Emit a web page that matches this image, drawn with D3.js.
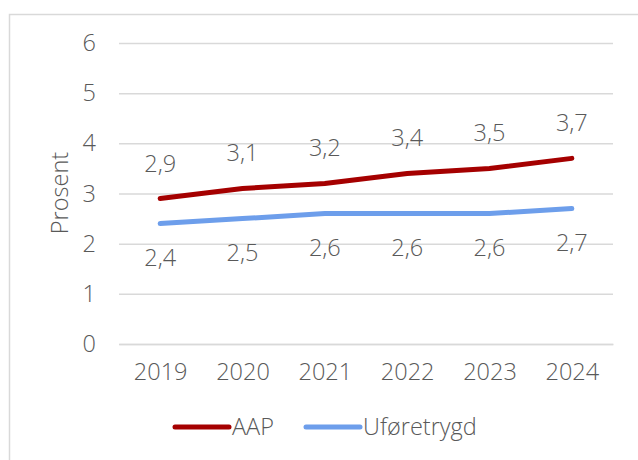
<!DOCTYPE html>
<html><head><meta charset="utf-8">
<script src="https://cdn.jsdelivr.net/npm/d3@7"></script>
<style>body{margin:0;background:#fff}svg{display:block}text{font-family:"Open Sans",Lato,sans-serif;font-weight:300;fill:#595959}</style>
</head><body><svg id="c" width="638" height="460"></svg>
<script>
const years = ["2019","2020","2021","2022","2023","2024"];
const aap = [2.9,3.1,3.2,3.4,3.5,3.7];
const ufore = [2.4,2.5,2.6,2.6,2.6,2.7];
const yTicks = [0,1,2,3,4,5,6];
const seriesNames = ["AAP","Uføretrygd"];
const seriesColors = ["#A50000","#6D9EEB"];

const svg = d3.select("#c");
svg.append("rect").attr("x",9.5).attr("y",14.5).attr("width",700).attr("height",500)
  .attr("fill","none").attr("stroke","#d9d9d9").attr("stroke-width",1.5);

const x = d3.scalePoint().domain(years).range([119,613]).padding(0.5);
const y = d3.scaleLinear().domain([0,6]).range([344,43]);
const fs = 23.5;

const yAxis = svg.append("g").attr("transform","translate(119,0)")
  .call(d3.axisLeft(y).tickValues(yTicks).tickSize(-494).tickPadding(23).tickFormat(d3.format("d")));
yAxis.select(".domain").remove();
yAxis.selectAll("line").attr("stroke","#d9d9d9").attr("stroke-width",1.5);
yAxis.selectAll("text").style("font-size",fs+"px").attr("fill","#595959");

const xAxis = svg.append("g").attr("transform","translate(0,344)")
  .call(d3.axisBottom(x).tickSize(0).tickPadding(19));
xAxis.select(".domain").attr("stroke","#d9d9d9").attr("stroke-width",1.5);
xAxis.selectAll("text").style("font-size",fs+"px").attr("fill","#595959");

svg.append("text").attr("transform","translate(68,193) rotate(-90)").attr("text-anchor","middle")
  .style("font-size",fs+"px").text("Prosent");

const line = d3.line().x((d,i)=>x(years[i])).y(d=>y(d));
[aap, ufore].forEach((s,k)=>{
  svg.append("path").datum(s).attr("d",line).attr("fill","none")
    .attr("stroke",seriesColors[k]).attr("stroke-width",5).attr("stroke-linecap","round");
});
const fmt = d=>d3.format(".1f")(d).replace(".",",");
svg.append("g").selectAll("text").data(aap).join("text")
  .attr("x",(d,i)=>x(years[i])).attr("y",d=>y(d)-27).attr("text-anchor","middle")
  .style("font-size",fs+"px").text(fmt);
svg.append("g").selectAll("text").data(ufore).join("text")
  .attr("x",(d,i)=>x(years[i])).attr("y",d=>y(d)+42).attr("text-anchor","middle")
  .style("font-size",fs+"px").text(fmt);

const legX = [175,306];
legX.forEach((lx,k)=>{
  svg.append("line").attr("x1",lx).attr("x2",lx+54).attr("y1",427).attr("y2",427)
    .attr("stroke",seriesColors[k]).attr("stroke-width",5).attr("stroke-linecap","round");
  svg.append("text").attr("x",lx+57).attr("y",435).style("font-size",fs+"px").text(seriesNames[k]);
});
</script></body></html>
